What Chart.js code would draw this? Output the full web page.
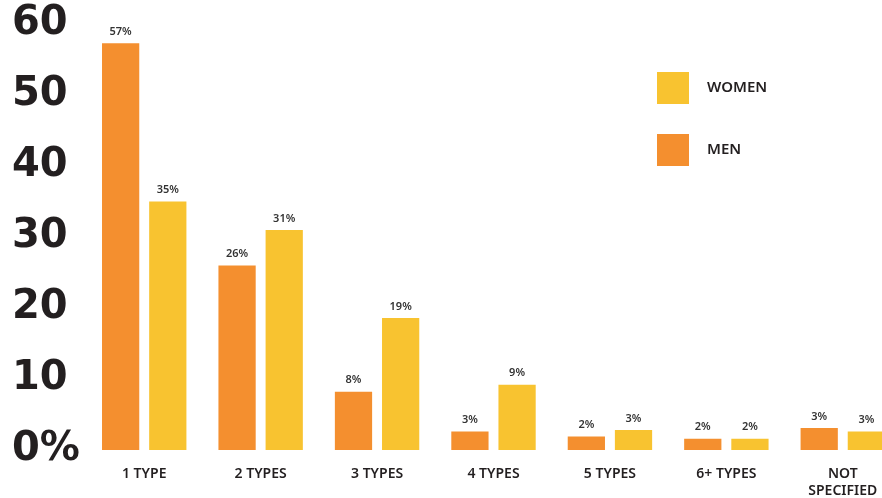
<!DOCTYPE html>
<html>
<head>
<meta charset="utf-8">
<script src="https://cdn.jsdelivr.net/npm/chart.js@4/dist/chart.umd.min.js"></script>
<style>
  html, body { margin: 0; padding: 0; background: #fff; overflow: hidden; width: 882px; height: 498px; }
  #wrap { width: 902px; height: 498px; }
</style>
</head>
<body>
<div id="wrap"><canvas id="c" width="902" height="498"></canvas></div>
<script>
const categories = ["1 TYPE", "2 TYPES", "3 TYPES", "4 TYPES", "5 TYPES", "6+ TYPES", ["NOT", "SPECIFIED"]];
const seriesNames = ["MEN", "WOMEN"];
const menValues = [57.3, 26, 8.2, 2.6, 1.9, 1.6, 3.1];
const womenValues = [35, 31, 18.6, 9.2, 2.8, 1.6, 2.6];
const menLabels = ["57%", "26%", "8%", "3%", "2%", "2%", "3%"];
const womenLabels = ["35%", "31%", "19%", "9%", "3%", "2%", "3%"];
const yTicks = [0, 10, 20, 30, 40, 50, 60];

const ORANGE = "#F48F2F";
const YELLOW = "#F8C330";
const INK = "#231f20";

const valueLabelPlugin = {
  id: "valueLabels",
  afterDatasetsDraw(chart) {
    const ctx = chart.ctx;
    ctx.save();
    ctx.font = "600 11px 'Noto Sans'";
    ctx.fillStyle = "#333";
    ctx.textAlign = "center";
    ctx.textBaseline = "bottom";
    chart.data.datasets.forEach((ds, di) => {
      const meta = chart.getDatasetMeta(di);
      meta.data.forEach((bar, i) => {
        ctx.fillText(ds.valueLabels[i], bar.x, bar.y - 6);
      });
    });
    ctx.restore();
  }
};

const legendPlugin = {
  id: "customLegend",
  afterDraw(chart) {
    const ctx = chart.ctx;
    ctx.save();
    const order = [1, 0];
    order.forEach((di, k) => {
      const ds = chart.data.datasets[di];
      const y = 72 + k * 62;
      ctx.fillStyle = ds.backgroundColor;
      ctx.fillRect(657, y, 32, 32);
      ctx.fillStyle = INK;
      ctx.font = "600 15px 'Noto Sans'";
      ctx.textAlign = "left";
      ctx.textBaseline = "middle";
      ctx.fillText(ds.label, 707, y + 16);
    });
    ctx.restore();
  }
};

new Chart(document.getElementById("c"), {
  type: "bar",
  data: {
    labels: categories,
    datasets: [
      { label: seriesNames[0], data: menValues, valueLabels: menLabels, backgroundColor: ORANGE },
      { label: seriesNames[1], data: womenValues, valueLabels: womenLabels, backgroundColor: YELLOW }
    ]
  },
  options: {
    responsive: false,
    animation: false,
    layout: { padding: { top: 10, right: 1, left: 12, bottom: 0 } },
    categoryPercentage: 0.81,
    barPercentage: 0.79,
    plugins: { legend: { display: false }, tooltip: { enabled: false } },
    scales: {
      x: {
        afterFit(scale) { scale.height = 48; },
        grid: { display: false, drawTicks: false },
        border: { display: false },
        ticks: {
          color: INK,
          font: { family: "'Noto Sans'", size: 14, weight: "600", lineHeight: 1.25 },
          padding: 15,
          maxRotation: 0,
          autoSkip: false
        }
      },
      y: {
        min: 0,
        max: 60,
        afterBuildTicks(scale) { scale.ticks = yTicks.map(v => ({ value: v })); },
        afterFit(scale) { scale.width = 74; },
        grid: { display: false, drawTicks: false },
        border: { display: false },
        ticks: {
          color: INK,
          crossAlign: "far",
          padding: 0,
          font: { family: "'DejaVu Sans'", size: 40, weight: "bold" },
          callback: (v) => v === 0 ? "0%" : String(v)
        }
      }
    }
  },
  plugins: [valueLabelPlugin, legendPlugin]
});
</script>
</body>
</html>
